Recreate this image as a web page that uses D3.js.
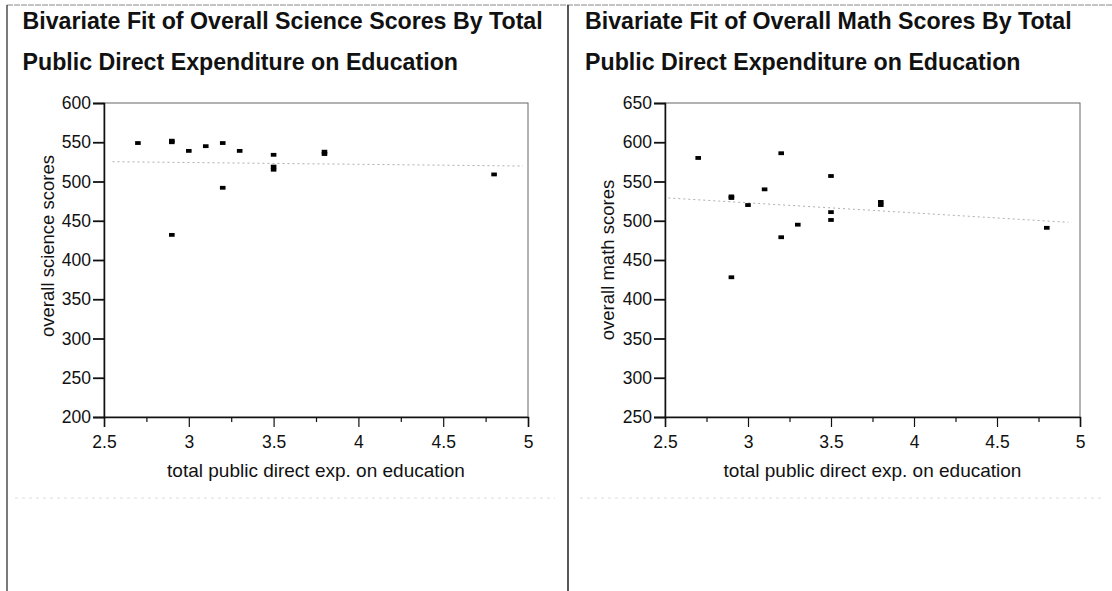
<!DOCTYPE html>
<html>
<head>
<meta charset="utf-8">
<script src="https://cdn.jsdelivr.net/npm/d3@7"></script>
<style>
  html, body { margin: 0; padding: 0; background: #fff; }
  svg { display: block; font-family: "Liberation Sans", Arial, Helvetica, sans-serif; }
</style>
</head>
<body>
<svg id="chart" width="1112" height="591"></svg>
<script>
// ---------- data ----------
const titleScience = ["Bivariate Fit of Overall Science Scores By Total", "Public Direct Expenditure on Education"];
const titleMath = ["Bivariate Fit of Overall Math Scores By Total", "Public Direct Expenditure on Education"];
const xLabel = "total public direct exp. on education";
const yLabelScience = "overall science scores";
const yLabelMath = "overall math scores";

const xTicks = [2.5, 3, 3.5, 4, 4.5, 5];
const xMinorTicks = [2.75, 3.25, 3.75, 4.25, 4.75];
const yTicksScience = [200, 250, 300, 350, 400, 450, 500, 550, 600];
const yTicksMath = [250, 300, 350, 400, 450, 500, 550, 600, 650];

const scienceX = [2.7, 2.9, 2.9, 2.9, 3.0, 3.1, 3.2, 3.2, 3.3, 3.5, 3.5, 3.5, 3.8, 3.8, 4.8];
const scienceY = [549, 550, 552, 432, 539, 545, 549, 492, 539, 534, 519, 515, 538, 535, 509];

const mathX = [2.7, 2.9, 2.9, 2.9, 3.0, 3.1, 3.2, 3.2, 3.3, 3.5, 3.5, 3.5, 3.8, 3.8, 4.8];
const mathY = [580, 529, 531, 428, 520, 540, 586, 479, 495, 557, 511, 501, 524, 520, 491];

const fitXScience = [2.55, 4.97];
const fitYScience = [525.2, 519.7];
const fitXMath = [2.52, 4.93];
const fitYMath = [529, 498];

// ---------- drawing ----------
const svg = d3.select("#chart");

// panel frame
svg.append("line").attr("x1", 7).attr("x2", 1112).attr("y1", 5).attr("y2", 5)
  .attr("stroke", "#888").attr("stroke-width", 1).attr("stroke-dasharray", "6,1");
svg.append("line").attr("x1", 7).attr("x2", 7).attr("y1", 5).attr("y2", 591)
  .attr("stroke", "#222").attr("stroke-width", 1.2);
svg.append("line").attr("x1", 568).attr("x2", 568).attr("y1", 5).attr("y2", 591)
  .attr("stroke", "#111").attr("stroke-width", 1.4);
// faint scan line
svg.append("line").attr("x1", 15).attr("x2", 555).attr("y1", 498).attr("y2", 498)
  .attr("stroke", "#dcdcdc").attr("stroke-width", 1).attr("stroke-dasharray", "3,4");
svg.append("line").attr("x1", 580).attr("x2", 1105).attr("y1", 498).attr("y2", 498)
  .attr("stroke", "#dcdcdc").attr("stroke-width", 1).attr("stroke-dasharray", "3,4");

function panel(opts) {
  const g = svg.append("g");
  // title
  opts.title.forEach((t, i) => {
    g.append("text").attr("x", opts.titleX).attr("y", 28.5 + i * 41.5)
      .attr("font-size", 23.2).attr("font-weight", "bold").attr("fill", "#111").text(t);
  });

  const x = d3.scaleLinear().domain([2.5, 5]).range([opts.left, opts.right]);
  const y = d3.scaleLinear().domain(opts.yDomain).range([417, 103]);

  // plot frame (top, right)
  g.append("rect").attr("x", opts.left).attr("y", 103)
    .attr("width", opts.right - opts.left).attr("height", 314)
    .attr("fill", "none").attr("stroke", "#666").attr("stroke-width", 1);

  // y axis
  const ya = g.append("g").attr("transform", `translate(${opts.left},0)`)
    .call(d3.axisLeft(y).tickValues(opts.yTicks).tickSize(11).tickPadding(2).tickFormat(d3.format("d")));
  ya.select(".domain").attr("stroke", "#111").attr("stroke-width", 1.5);
  ya.selectAll(".tick line").attr("stroke", "#111").attr("stroke-width", 1.8);
  ya.selectAll(".tick text").attr("font-size", 17.5).attr("fill", "#111")
    .attr("font-family", "Liberation Sans, Arial, sans-serif");

  // x axis major
  const xa = g.append("g").attr("transform", "translate(0,417)")
    .call(d3.axisBottom(x).tickValues(xTicks).tickSize(10).tickPadding(9).tickFormat(d => String(d)));
  xa.select(".domain").attr("stroke", "#111").attr("stroke-width", 1.5);
  xa.selectAll(".tick line").attr("stroke", "#111").attr("stroke-width", 1.2);
  xa.selectAll(".tick text").attr("font-size", 17.5).attr("fill", "#111")
    .attr("font-family", "Liberation Sans, Arial, sans-serif");
  // x axis minor
  const xm = g.append("g").attr("transform", "translate(0,417)")
    .call(d3.axisBottom(x).tickValues(xMinorTicks).tickSize(5).tickFormat(""));
  xm.select(".domain").remove();
  xm.selectAll(".tick line").attr("stroke", "#111").attr("stroke-width", 1.2);

  // labels
  g.append("text").attr("x", (opts.left + opts.right) / 2).attr("y", 477)
    .attr("text-anchor", "middle").attr("font-size", 19).attr("fill", "#111").text(xLabel);
  g.append("text").attr("transform", `translate(${opts.yLabelX},${opts.yLabelY}) rotate(-90)`)
    .attr("text-anchor", "middle").attr("font-size", 18.5).attr("fill", "#111").text(opts.yLabel);

  // fit line
  const fit = opts.fitX.map((v, i) => [v, opts.fitY[i]]);
  g.append("path").datum(fit)
    .attr("d", d3.line().x(d => x(d[0])).y(d => y(d[1])))
    .attr("fill", "none").attr("stroke", "#b0b0b0").attr("stroke-width", 1)
    .attr("stroke-dasharray", "2,3");

  // points
  const pts = opts.xs.map((v, i) => [v, opts.ys[i]]);
  g.selectAll("rect.pt").data(pts).enter().append("rect").attr("class", "pt")
    .attr("x", d => x(d[0]) - 2.8).attr("y", d => y(d[1]) - 1.9)
    .attr("width", 5.6).attr("height", 3.8).attr("fill", "#000");
}

panel({
  title: titleScience, titleX: 22.5, left: 104, right: 528,
  yDomain: [200, 600], yTicks: yTicksScience, yLabel: yLabelScience,
  yLabelX: 54, yLabelY: 246,
  xs: scienceX, ys: scienceY, fitX: fitXScience, fitY: fitYScience
});
panel({
  title: titleMath, titleX: 585, left: 665, right: 1080,
  yDomain: [250, 650], yTicks: yTicksMath, yLabel: yLabelMath,
  yLabelX: 614, yLabelY: 260,
  xs: mathX, ys: mathY, fitX: fitXMath, fitY: fitYMath
});
</script>
</body>
</html>
